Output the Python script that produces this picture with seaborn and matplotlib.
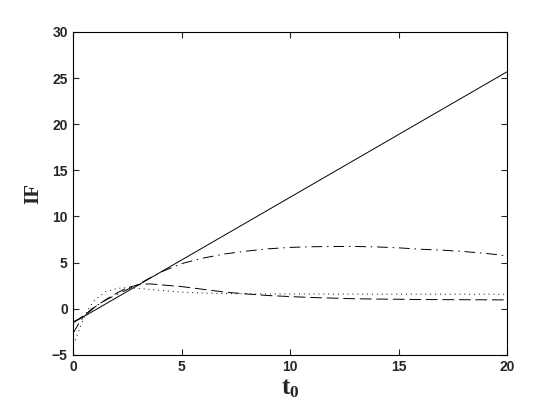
import matplotlib
matplotlib.use('Agg')
import matplotlib.pyplot as plt
import seaborn as sns
import pandas as pd

t_solid = [0, 5, 10, 15, 20]
if_solid = [-1.5, 5.3, 12.1, 18.9, 25.7]

t_curve = [0, 0.25, 0.5, 0.75, 1, 1.5, 2, 2.5, 3, 3.5, 4, 5, 6, 7, 8, 9, 10,
           11, 12, 13, 14, 15, 16, 17, 18, 19, 20]
if_dashdot = [-2.6, -1.6, -0.8, -0.2, 0.25, 0.95, 1.55, 2.1, 2.65, 3.3, 3.95,
              4.9, 5.5, 5.95, 6.25, 6.5, 6.65, 6.72, 6.75, 6.75, 6.7, 6.6,
              6.45, 6.35, 6.2, 6.0, 5.73]
if_dashed = [-1.4, -1.1, -0.7, -0.3, 0.2, 1.0, 1.7, 2.3, 2.6, 2.7, 2.6, 2.4,
             2.1, 1.8, 1.6, 1.43, 1.32, 1.22, 1.15, 1.08, 1.05, 1.03, 1.0,
             0.99, 0.98, 0.97, 0.96]
if_dotted = [-3.9, -2.4, -0.9, 0.2, 1.0, 1.85, 2.2, 2.3, 2.2, 2.1, 2.0, 1.8,
             1.7, 1.65, 1.62, 1.6, 1.6, 1.6, 1.59, 1.59, 1.58, 1.58, 1.58,
             1.58, 1.58, 1.58, 1.58]

sns.set_style('ticks')
plt.rcParams['font.family'] = ['Liberation Sans', 'DejaVu Sans']
plt.rcParams['mathtext.fontset'] = 'custom'
plt.rcParams['mathtext.bf'] = 'Liberation Serif:bold'
plt.rcParams['mathtext.rm'] = 'Liberation Serif:bold'

fig = plt.figure(figsize=(5.6, 4.2), dpi=100)
ax = fig.add_axes([0.131, 0.155, 0.775, 0.769])

# Прямая и три кривые
sns.lineplot(x=t_solid, y=if_solid, ax=ax, color='k', lw=0.7,
             linestyle='-')
df = pd.DataFrame({'t': t_curve, 'dashdot': if_dashdot,
                   'dashed': if_dashed, 'dotted': if_dotted})
sns.lineplot(data=df, x='t', y='dashdot', ax=ax, color='k', lw=0.7)
ax.lines[-1].set_dashes([11, 5, 1.5, 5])
sns.lineplot(data=df, x='t', y='dashed', ax=ax, color='k', lw=0.7)
ax.lines[-1].set_dashes([12, 5])
sns.lineplot(data=df, x='t', y='dotted', ax=ax, color='k', lw=0.7)
ax.lines[-1].set_dashes([1, 4])

ax.set_xlim(0, 20)
ax.set_ylim(-5, 30)
ax.set_xticks([0, 5, 10, 15, 20])
ax.set_yticks([-5, 0, 5, 10, 15, 20, 25, 30])
ax.tick_params(direction='in', top=True, right=True, length=4, width=0.8,
               labelsize=10, pad=4)
for lbl in ax.get_xticklabels() + ax.get_yticklabels():
    lbl.set_fontweight('bold')
for sp in ax.spines.values():
    sp.set_visible(True)
    sp.set_linewidth(0.8)
    sp.set_color('k')

ax.set_xlabel(r'$\mathbf{t_0}$', fontsize=18, labelpad=1)
ax.set_ylabel('IF', fontsize=15, fontweight='bold',
              family=['Liberation Serif', 'DejaVu Serif'], labelpad=6)

fig.savefig('out.png', dpi=100)
